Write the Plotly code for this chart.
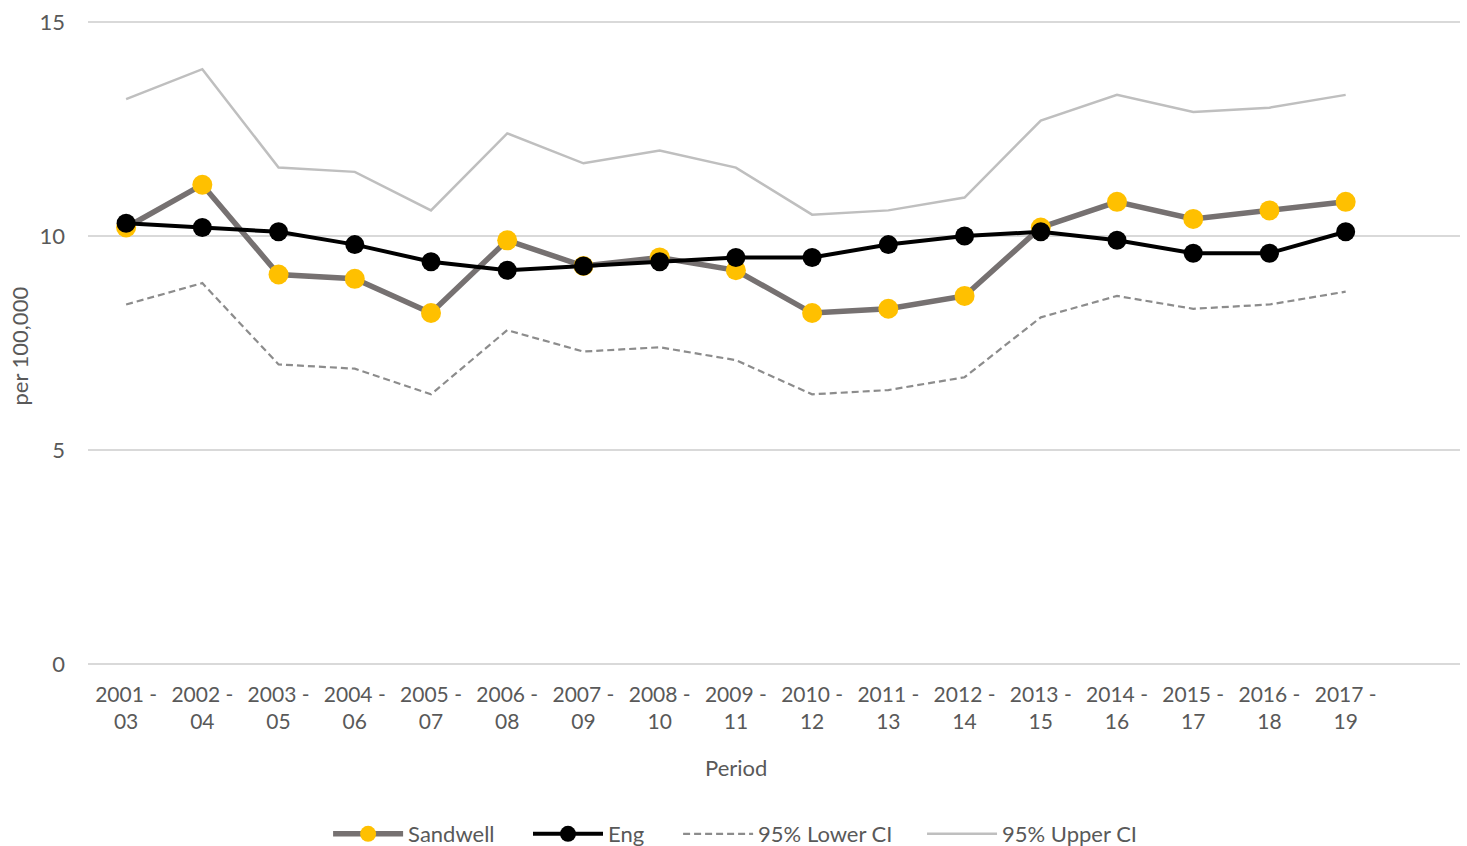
import plotly.graph_objects as go

periods = ["2001 -<br>03", "2002 -<br>04", "2003 -<br>05", "2004 -<br>06", "2005 -<br>07",
           "2006 -<br>08", "2007 -<br>09", "2008 -<br>10", "2009 -<br>11", "2010 -<br>12",
           "2011 -<br>13", "2012 -<br>14", "2013 -<br>15", "2014 -<br>16", "2015 -<br>17",
           "2016 -<br>18", "2017 -<br>19"]

sandwell = [10.2, 11.2, 9.1, 9.0, 8.2, 9.9, 9.3, 9.5, 9.2, 8.2, 8.3, 8.6, 10.2, 10.8, 10.4, 10.6, 10.8]
england = [10.3, 10.2, 10.1, 9.8, 9.4, 9.2, 9.3, 9.4, 9.5, 9.5, 9.8, 10.0, 10.1, 9.9, 9.6, 9.6, 10.1]
lower_ci = [8.4, 8.9, 7.0, 6.9, 6.3, 7.8, 7.3, 7.4, 7.1, 6.3, 6.4, 6.7, 8.1, 8.6, 8.3, 8.4, 8.7]
upper_ci = [13.2, 13.9, 11.6, 11.5, 10.6, 12.4, 11.7, 12.0, 11.6, 10.5, 10.6, 10.9, 12.7, 13.3, 12.9, 13.0, 13.3]

x = list(range(len(periods)))
FONT = "Lato, 'Open Sans', sans-serif"
TEXT = "#595959"

fig = go.Figure()
fig.add_trace(go.Scatter(x=x, y=lower_ci, name="95% Lower CI", mode="lines",
                         line=dict(color="#8C8C8C", width=2.2, dash="7px,4px"),
                         legend="legend3"))
fig.add_trace(go.Scatter(x=x, y=upper_ci, name="95% Upper CI", mode="lines",
                         line=dict(color="#BFBFBF", width=2.5),
                         legend="legend4"))
fig.add_trace(go.Scatter(x=x, y=sandwell, name="Sandwell", mode="lines+markers",
                         line=dict(color="#767171", width=5.5),
                         marker=dict(color="#FFC000", size=20),
                         legend="legend"))
fig.add_trace(go.Scatter(x=x, y=england, name="Eng", mode="lines+markers",
                         line=dict(color="#000000", width=4),
                         marker=dict(color="#000000", size=19),
                         legend="legend2"))

# one single-entry legend per series, placed side by side along the bottom
def legend_at(xpos):
    return dict(orientation="h", x=xpos, xanchor="left",
                yref="container", y=0.0142, yanchor="middle",
                itemwidth=70, bgcolor="rgba(0,0,0,0)",
                font=dict(family=FONT, size=22, color=TEXT))

fig.update_layout(
    width=1467, height=846,
    margin=dict(l=88, r=7, t=19.5, b=180.4),
    paper_bgcolor="white", plot_bgcolor="white",
    font=dict(family=FONT, size=22, color=TEXT),
    showlegend=True,
    legend=legend_at(0.1750),
    legend2=legend_at(0.3207),
    legend3=legend_at(0.4301),
    legend4=legend_at(0.6079),
    xaxis=dict(range=[-0.5, 17.5], tickmode="array", tickvals=x, ticktext=periods,
               showgrid=False, zeroline=False, showline=False, ticks="",
               ticklabelstandoff=14,
               tickfont=dict(family=FONT, size=21, color=TEXT)),
    yaxis=dict(range=[-0.05, 15.05], tickvals=[0, 5, 10, 15], showgrid=True,
               gridcolor="#D9D9D9", gridwidth=1.5, zeroline=False, showline=False,
               ticks="", ticklabelstandoff=22,
               tickfont=dict(family=FONT, size=22, color=TEXT)),
    annotations=[
        dict(text="Period", xref="paper", yref="paper", x=0.472, y=-0.157,
             xanchor="center", yanchor="middle", showarrow=False,
             font=dict(family=FONT, size=22, color=TEXT)),
        dict(text="per 100,000", xref="paper", yref="paper", x=-0.0496, y=0.496,
             xanchor="center", yanchor="middle", showarrow=False, textangle=-90,
             font=dict(family=FONT, size=22, color=TEXT)),
    ],
)

fig.write_html("out.html")
